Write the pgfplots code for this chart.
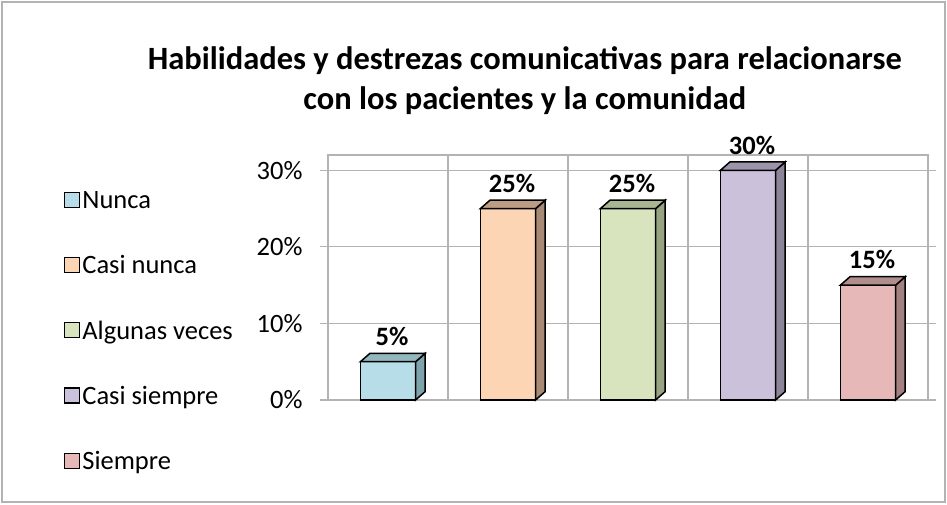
\documentclass[border=0pt]{standalone}
\usepackage{pgfplots}
\pgfplotsset{compat=1.18}
\usepackage{fontspec}
\setmainfont{Carlito}
\definecolor{fA}{HTML}{B7DEE8}\definecolor{sA}{HTML}{7FA3AB}\definecolor{tA}{HTML}{93B7BF}
\definecolor{fB}{HTML}{FCD5B5}\definecolor{sB}{HTML}{A88A74}\definecolor{tB}{HTML}{BB9C85}
\definecolor{fC}{HTML}{D7E4BD}\definecolor{sC}{HTML}{98A383}\definecolor{tC}{HTML}{A9B593}
\definecolor{fD}{HTML}{CCC1DA}\definecolor{sD}{HTML}{8C8499}\definecolor{tD}{HTML}{9D94AA}
\definecolor{fE}{HTML}{E6B9B8}\definecolor{sE}{HTML}{A38180}\definecolor{tE}{HTML}{B08E8D}
\definecolor{gridc}{HTML}{B3B3B3}
\begin{document}
\begin{tikzpicture}[x=1pt,y=1pt]
\path[use as bounding box] (0,0) rectangle (947,504);
\draw[gridc, line width=1.2pt] (2,2) rectangle (945,502);
\begin{axis}[
  at={(328pt,104pt)}, anchor=south west,
  scale only axis, width=600pt, height=245pt,
  xmin=-0.5, xmax=4.5, ymin=0, ymax=32,
  xtick={-0.5,0.5,1.5,2.5,3.5,4.5}, xticklabels={},
  ytick={0,10,20,30},
  yticklabel={\pgfmathprintnumber{\tick}\%},
  yticklabel style={xshift=-14pt},
  /pgf/number format/assume math mode=true,
  ticklabel style={font=\fontsize{26.5}{30}\selectfont},
  xmajorgrids, ymajorgrids,
  grid style={gridc, line width=1.2pt},
  axis line style={gridc, line width=1.2pt},
  xtick style={draw=none},
  ytick style={gridc, line width=1.2pt},
  major tick length=8pt,
  tick align=outside,
  /pgf/bar width=0.46, /pgf/bar shift=0pt,
  clip=false,
  title={Habilidades y destrezas comunicativas para relacionarse\\con los pacientes y la comunidad},
  title style={font=\bfseries\fontsize{32.5}{40}\selectfont, align=center,
    at={(0.328,1.28)}, anchor=center},
  legend style={draw=none, fill=none, at={(-0.445,0.868)}, anchor=north west,
    font=\fontsize{26.5}{30}\selectfont, row sep=41.5pt,
    legend cell align=left},
  legend image code/.code={\draw[#1,draw=black,line width=1.2pt] (-4pt,-7pt) rectangle (11pt,8pt);},
  nodes near coords={\pgfmathprintnumber{\pgfplotspointmeta}\%},
  nodes near coords style={font=\bfseries\fontsize{26.5}{30}\selectfont, anchor=south, yshift=12pt, xshift=4pt},
]
\addplot[ybar, fill=fA, draw=black, line width=1.5pt] coordinates {(0,5)};
\addlegendentry{Nunca}
\addplot[ybar, fill=fB, draw=black, line width=1.5pt] coordinates {(1,25)};
\addlegendentry{Casi nunca}
\addplot[ybar, fill=fC, draw=black, line width=1.5pt] coordinates {(2,25)};
\addlegendentry{Algunas veces}
\addplot[ybar, fill=fD, draw=black, line width=1.5pt] coordinates {(3,30)};
\addlegendentry{Casi siempre}
\addplot[ybar, fill=fE, draw=black, line width=1.5pt] coordinates {(4,15)};
\addlegendentry{Siempre}
% side and top faces
\addplot[forget plot, fill=sA, draw=black, line width=1.5pt, mark=none, nodes near coords={}] coordinates {(0.23,0) (0.31,1.1) (0.31,6.1) (0.23,5)} -- cycle;
\addplot[forget plot, fill=tA, draw=black, line width=1.5pt, mark=none, nodes near coords={}] coordinates {(-0.23,5) (0.23,5) (0.31,6.1) (-0.15,6.1)} -- cycle;
\addplot[forget plot, fill=sB, draw=black, line width=1.5pt, mark=none, nodes near coords={}] coordinates {(1.23,0) (1.31,1.1) (1.31,26.1) (1.23,25)} -- cycle;
\addplot[forget plot, fill=tB, draw=black, line width=1.5pt, mark=none, nodes near coords={}] coordinates {(0.77,25) (1.23,25) (1.31,26.1) (0.85,26.1)} -- cycle;
\addplot[forget plot, fill=sC, draw=black, line width=1.5pt, mark=none, nodes near coords={}] coordinates {(2.23,0) (2.31,1.1) (2.31,26.1) (2.23,25)} -- cycle;
\addplot[forget plot, fill=tC, draw=black, line width=1.5pt, mark=none, nodes near coords={}] coordinates {(1.77,25) (2.23,25) (2.31,26.1) (1.85,26.1)} -- cycle;
\addplot[forget plot, fill=sD, draw=black, line width=1.5pt, mark=none, nodes near coords={}] coordinates {(3.23,0) (3.31,1.1) (3.31,31.1) (3.23,30)} -- cycle;
\addplot[forget plot, fill=tD, draw=black, line width=1.5pt, mark=none, nodes near coords={}] coordinates {(2.77,30) (3.23,30) (3.31,31.1) (2.85,31.1)} -- cycle;
\addplot[forget plot, fill=sE, draw=black, line width=1.5pt, mark=none, nodes near coords={}] coordinates {(4.23,0) (4.31,1.1) (4.31,16.1) (4.23,15)} -- cycle;
\addplot[forget plot, fill=tE, draw=black, line width=1.5pt, mark=none, nodes near coords={}] coordinates {(3.77,15) (4.23,15) (4.31,16.1) (3.85,16.1)} -- cycle;
\end{axis}
\end{tikzpicture}
\end{document}
